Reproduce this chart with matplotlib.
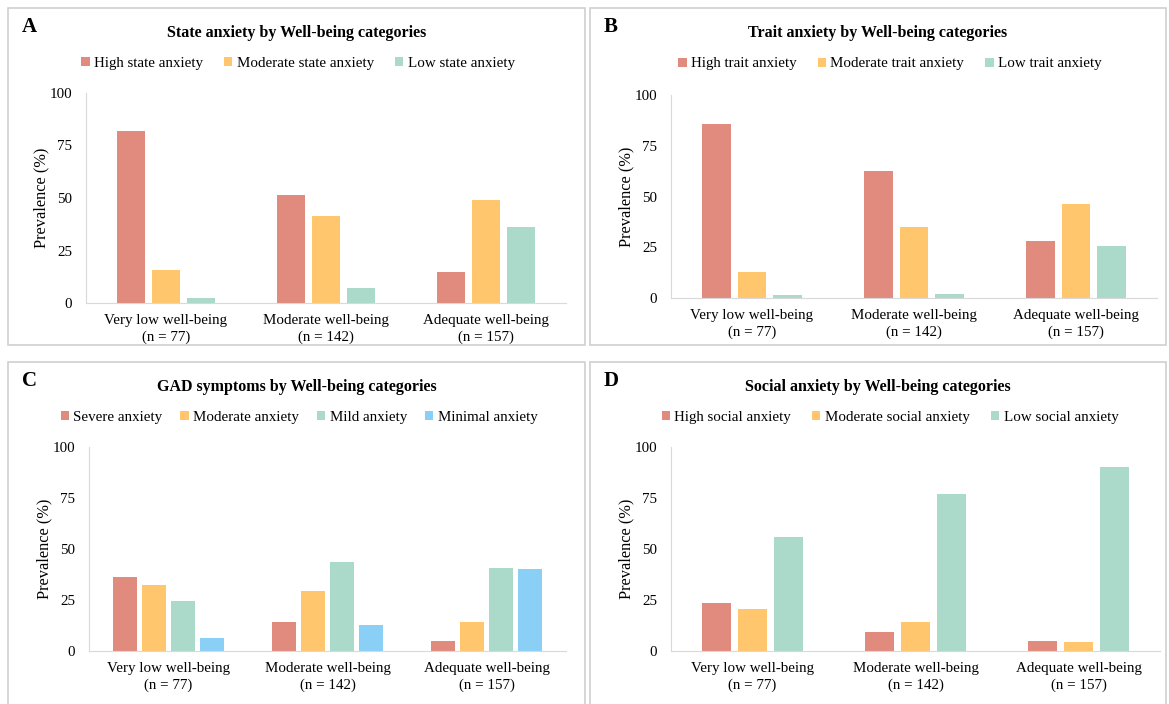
import matplotlib
matplotlib.use('Agg')
from matplotlib import pyplot as plt
from matplotlib.patches import Rectangle
import numpy as np

plt.rcParams['font.family'] = ['Liberation Serif', 'DejaVu Serif']

# Figure size in pixels
W, H = 1169, 704

# Well-being groups (x categories)
groups = ['Very low well-being\n(n = 77)',
          'Moderate well-being\n(n = 142)',
          'Adequate well-being\n(n = 157)']

# Colours
red = '#E08B7D'
orange = '#FFC66E'
green = '#ABDACA'
blue = '#8ACFF5'

# Panel A - state anxiety
state_labels = ['High state anxiety', 'Moderate state anxiety', 'Low state anxiety']
state_high = [81.8, 51.4, 14.6]
state_moderate = [15.6, 41.5, 49.0]
state_low = [2.6, 7.0, 36.3]

# Panel B - trait anxiety
trait_labels = ['High trait anxiety', 'Moderate trait anxiety', 'Low trait anxiety']
trait_high = [85.7, 62.7, 28.0]
trait_moderate = [13.0, 35.2, 46.5]
trait_low = [1.3, 2.1, 25.5]

# Panel C - GAD symptoms
gad_labels = ['Severe anxiety', 'Moderate anxiety', 'Mild anxiety', 'Minimal anxiety']
gad_severe = [36.4, 14.1, 5.1]
gad_moderate = [32.5, 29.6, 14.0]
gad_mild = [24.7, 43.7, 40.8]
gad_minimal = [6.5, 12.7, 40.1]

# Panel D - social anxiety
social_labels = ['High social anxiety', 'Moderate social anxiety', 'Low social anxiety']
social_high = [23.4, 9.2, 5.1]
social_moderate = [20.8, 14.1, 4.5]
social_low = [55.8, 76.8, 90.4]

yticks = [0, 25, 50, 75, 100]

fig = plt.figure(figsize=(W/100, H/100), dpi=100)


def fx(x):
    return x / W


def fy(y):
    return 1 - y / H


def panel(box, axbox, letter, title, labels, series, colours, legend_y, legend_x):
    # box / axbox in pixel coords: (left, top, right, bottom)
    l, t, r, b = box
    fig.patches.append(Rectangle((fx(l), fy(b)), fx(r - l), (b - t) / H,
                                 transform=fig.transFigure, fill=False,
                                 edgecolor='#d0d0d0', linewidth=1.2))
    fig.text(fx(l + 14), fy(t + 19), letter, fontsize=15, fontweight='bold',
             va='center', ha='left')
    fig.text(fx((l + r) / 2), fy(t + 25), title, fontsize=11.5,
             fontweight='bold', va='center', ha='center')

    al, at, ar, ab = axbox
    ax = fig.add_axes([fx(al), fy(ab), fx(ar - al), (ab - at) / H])
    n = len(series)
    x = np.arange(len(groups))
    step = 0.22 if n == 3 else 0.181
    width = 0.175 if n == 3 else 0.15
    for i, (vals, c, lab) in enumerate(zip(series, colours, labels)):
        ax.bar(x + (i - (n - 1) / 2) * step, vals, width, color=c, label=lab)
    ax.set_xlim(-0.5, 2.5)
    ax.set_ylim(0, 100)
    ax.set_yticks(yticks)
    ax.set_xticks(x)
    ax.set_xticklabels(groups, linespacing=1.3)
    ax.tick_params(length=0, labelsize=10.8)
    ax.tick_params(axis='x', pad=8)
    ax.tick_params(axis='y', pad=10)
    for s in ['top', 'right']:
        ax.spines[s].set_visible(False)
    for s in ['left', 'bottom']:
        ax.spines[s].set_color('#d9d9d9')
    ax.set_ylabel('Prevalence (%)', fontsize=11.8, labelpad=0)
    ax.legend(loc='center', bbox_to_anchor=(fx(legend_x), fy(legend_y)),
              bbox_transform=fig.transFigure, ncol=n, frameon=False,
              fontsize=10.8, handlelength=0.55, handleheight=0.55,
              handletextpad=0.3, columnspacing=1.4 if n == 3 else 1.2)
    return ax


panel((8, 8, 585, 345), (86, 93, 566, 303), 'A',
      'State anxiety by Well-being categories', state_labels,
      [state_high, state_moderate, state_low], [red, orange, green], 63, 298)

panel((590, 8, 1166, 345), (671, 95, 1157, 298), 'B',
      'Trait anxiety by Well-being categories', trait_labels,
      [trait_high, trait_moderate, trait_low], [red, orange, green], 64, 890)

panel((8, 362, 585, 710), (89, 447, 566, 651), 'C',
      'GAD symptoms by Well-being categories', gad_labels,
      [gad_severe, gad_moderate, gad_mild, gad_minimal],
      [red, orange, green, blue], 417, 299)

panel((590, 362, 1166, 710), (671, 447, 1160, 651), 'D',
      'Social anxiety by Well-being categories', social_labels,
      [social_high, social_moderate, social_low], [red, orange, green], 417, 890)

fig.savefig('out.png', dpi=100)
